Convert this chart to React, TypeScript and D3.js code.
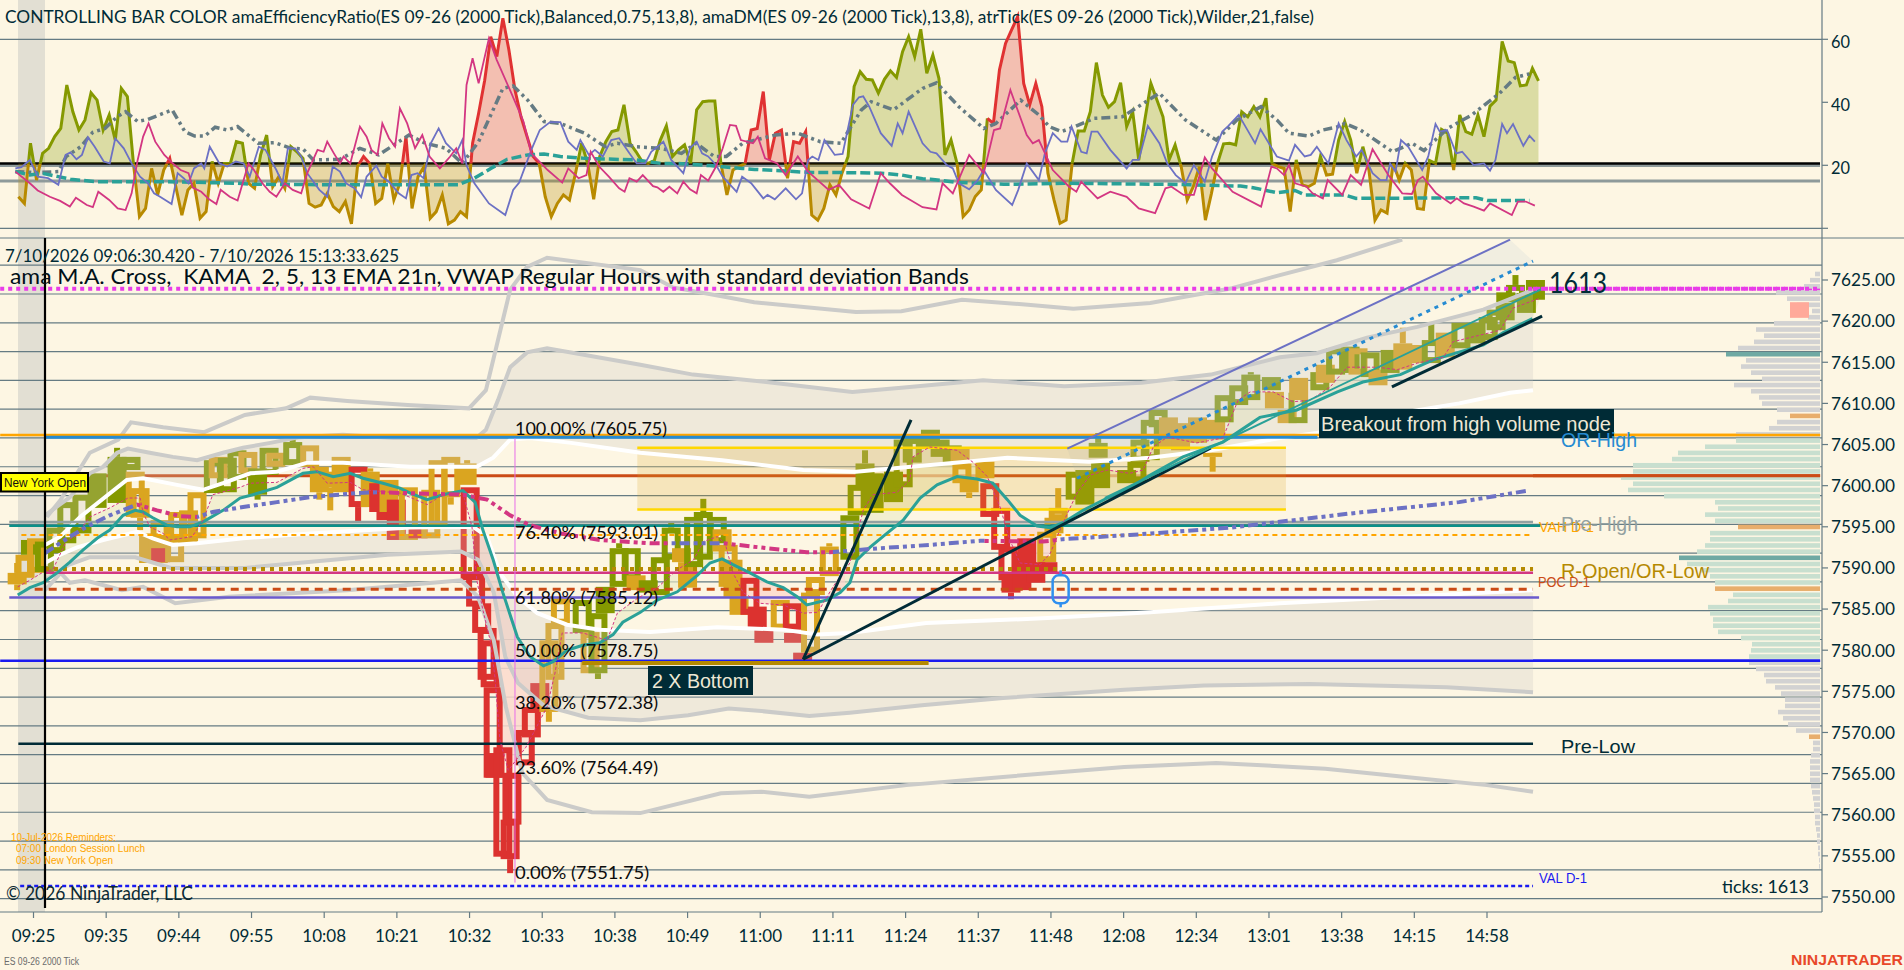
import React from 'react';
import * as d3 from 'd3';

type Pt = [number, number];
type Candle = [number, number, number, string, number?, number?];

const titleText = 'CONTROLLING BAR COLOR amaEfficiencyRatio(ES 09-26 (2000 Tick),Balanced,0.75,13,8), amaDM(ES 09-26 (2000 Tick),13,8), atrTick(ES 09-26 (2000 Tick),Wilder,21,false)';
const rangeText = '7/10/2026 09:06:30.420 - 7/10/2026 15:13:33.625';
const studyText = 'ama M.A. Cross,  KAMA  2, 5, 13 EMA 21n, VWAP Regular Hours with standard deviation Bands';

const timeLabels = ['09:25', '09:35', '09:44', '09:55', '10:08', '10:21', '10:32', '10:33', '10:38', '10:49', '11:00', '11:11', '11:24', '11:37', '11:48', '12:08', '12:34', '13:01', '13:38', '14:15', '14:58'];
const priceTicks = [7625, 7620, 7615, 7610, 7605, 7600, 7595, 7590, 7585, 7580, 7575, 7570, 7565, 7560, 7555, 7550];
const gridPrices = [7626.8, 7623.3, 7619.8, 7616.3, 7612.8, 7609.3, 7605.8, 7602.3, 7598.8, 7595.3, 7591.8, 7588.3, 7584.8, 7581.3, 7577.8, 7574.3, 7570.8, 7567.3, 7563.8, 7560.3, 7556.8, 7553.3, 7549.8];
const oscTicks = [60, 40, 20];

// efficiency ratio, one value per bar
const erValues = [
  10, 7.9, 27, 15.3, 23.8, 25.4, 29.1, 31.7, 45.5, 37,
  31.2, 34.4, 43, 40.7, 31.2, 36, 28, 44.4, 41.8, 20.6,
  3.7, 6.3, 19, 10.6, 18.5, 22.2, 13.2, 4.2, 12.2, 14.3,
  3.2, 5.3, 21.2, 14.3, 20.6, 20.6, 27.5, 27, 14.3, 12.7,
  23.3, 29.6, 13.2, 16.4, 12.7, 25.9, 24.3, 22.2, 7.9, 6.7,
  7.4, 11.1, 6.9, 5.3, 8.5, 1.4, 19.6, 22.8, 20.6, 7.9,
  9.5, 20.6, 9, 14.3, 29.1, 6.3, 16.4, 19.6, 3.2, 5.3,
  10.6, 1.4, 2.6, 5.3, 3.7, 27, 36.5, 47, 60.8, 54.5,
  66.7, 56.6, 43.9, 35.4, 29.1, 22.8, 20.6, 10, 3.7, 7.9,
  10.6, 9, 17.5, 27, 20.6, 9.2, 22.8, 27.5, 30.7, 31.2,
  39.2, 27, 24.3, 21.2, 20.6, 21.5, 28, 32.5, 22.8, 24.9,
  26.5, 20.6, 37.6, 40.2, 40.4, 40.4, 20.6, 10.6, 18.5, 19.6,
  20.6, 31.2, 31.7, 43.4, 21.7, 30.2, 31.2, 15.9, 27.5, 27,
  30.7, 4.2, 2.6, 6.3, 13.8, 10.6, 17.5, 22.8, 45, 49.7,
  47.3, 47.1, 42.9, 47.3, 50, 47.9, 56.1, 60.8, 54.5, 63.2,
  49.2, 55, 47.6, 23.3, 28, 20.6, 3.7, 5.8, 10.1, 12.2,
  34.9, 33.3, 50.3, 58.7, 63, 67.2, 46, 39.2, 46, 38.6,
  17.5, 9, 1.6, 2.6, 20.6, 30.9, 30.9, 37, 52.6, 42.3,
  38.4, 40.2, 46.2, 32.3, 37, 21.7, 34.4, 46, 40.7, 35.4,
  21.7, 26.5, 19.6, 9, 13.2, 19.6, 2.6, 11.1, 20.6, 26.8,
  27, 26.5, 37, 35.4, 38.6, 35.4, 41.3, 20.6, 19.6, 19,
  5.3, 21.7, 13.8, 13.2, 14.3, 22.8, 16.9, 17.2, 28, 33.9,
  28, 17.5, 25.9, 18.5, 2.6, 5.8, 4.8, 20.6, 15.3, 20.6,
  18.5, 6.3, 6, 21.5, 20.6, 31.4, 30.2, 18.5, 36, 30.7,
  29.9, 36, 29.1, 38.8, 40.7, 59.3, 53.1, 52.6, 45.2, 45.5, 50.8, 46.8,
];
const erRedRanges: Pt[] = [[24, 26], [56, 58], [63, 65], [74, 86], [120, 131], [159.5, 170]];
const erBase = 20.6;
const oscLevelLow = 15;
const oscLevelMid = 19.9;

const adxPink: Pt[] = [[0, 18], [2.4, 14.3], [3.7, 12], [5.7, 10], [7.4, 8.7], [9, 6.9], [10, 9.7], [11.8, 7.4], [12.8, 6.7], [13.7, 11.6], [15.5, 9], [16.9, 6.3], [18.2, 5.8], [19.2, 11.1], [20.2, 21.7], [21.1, 29.1], [22, 33.3], [23.1, 27.5], [24.6, 23.3], [26, 20.6], [27.3, 18.5], [28.6, 17.5], [29.3, 12.9], [30.7, 11.6], [32, 9.2], [33.2, 7.7], [33.9, 12.2], [35.4, 10], [36.7, 8.8], [38.5, 20.6], [39.4, 18.5], [40.8, 14.3], [42, 11.6], [43.1, 10], [44.5, 14.3], [45.8, 12.2], [47.2, 11.1], [48.2, 17.5], [49.9, 24.9], [50.9, 24.3], [51.5, 27.5], [52.6, 23.8], [53.6, 20.6], [54.2, 22.8], [55.3, 20.6], [56.9, 32.3], [58, 29.1], [58.8, 24.9], [59.8, 23.3], [60.6, 33.3], [61.7, 28.6], [62.7, 25.9], [63.5, 38.1], [64.7, 33.3], [66, 25.4], [67.2, 29.6], [68.4, 22.8], [70.1, 19], [71.8, 22.8], [72.8, 25.4], [73.8, 20.6], [74.5, 45.5], [75.5, 54], [76.5, 46], [78.2, 60.3], [79.5, 53.4], [81.9, 42.9], [83.9, 33.9], [85.2, 23.8], [87.9, 18.5], [90.3, 14.5], [91.3, 19], [93, 15.9], [94.3, 16.9], [95, 24.3], [96.4, 19.6], [98, 16.4], [99.7, 12.7], [100.6, 11.6], [101.4, 15.9],
  [102.6, 14.8], [103.6, 16.9], [105.3, 13.4], [106, 13], [107, 11.6], [108, 13.2], [109.3, 11.1], [110.3, 14.8], [111.4, 12.4], [112.5, 11.1], [113.2, 16.9], [114.4, 15.1], [115.7, 19.6], [116.8, 25.4], [118, 32.8], [119, 32.5], [119.8, 28], [121.8, 27], [122.6, 29.1], [123.8, 22.2], [125.8, 20.6], [127.2, 16.9], [129.2, 22.8], [130.9, 18], [134.3, 12.2], [136, 13.8], [138, 9.2], [141, 6.3], [142.9, 17.5], [144.4, 14.3], [146.4, 10.6], [149.8, 6.7], [152.1, 6], [153.1, 14.3], [154.8, 11.1], [157.5, 23.3], [159.9, 17.5], [161.6, 31.2], [162.6, 31.7], [164.3, 43.9], [167, 29.6], [168, 27], [169, 28], [171.3, 18.5], [174, 13.2], [175.2, 11.6], [176, 14.8], [178.7, 9.5], [180.8, 11.6], [183.5, 10], [185.5, 6.3], [188.2, 4.8], [189.9, 12.7], [190.9, 13.2], [192.9, 10.6], [194.6, 10.6], [196.4, 22.5], [197.6, 19], [201, 11.6], [205.7, 6.9], [207.4, 19.6],
  [208.3, 19], [209.5, 16.9], [210.3, 20.1], [211.3, 14.3], [213.2, 13.2], [214.2, 11.1], [215.9, 9.5], [216.7, 15.3], [219.1, 10.6], [220.5, 16.9], [222.2, 13.8], [224.1, 25.1], [226.7, 16.9], [229, 11.1], [230.6, 10.9], [231.6, 15.3], [232.4, 16.4], [234.6, 11.1], [237, 7.9], [238, 9.5], [239.2, 7.9], [240.8, 6.9], [242.5, 5.6], [243.5, 7.9], [247.1, 4.2], [248.1, 8.5], [249.4, 8.5], [250.9, 7.2]];

const adxBlue: Pt[] = [[0, 19], [1, 19.4], [2.4, 21.7], [3.7, 16.4], [5.4, 15.9], [7.1, 13.8], [8.3, 23.3], [9.1, 24.1], [10.1, 21.9], [11, 23.3], [12, 28.9], [13.1, 25.9], [14.6, 21.2], [15.6, 20.6], [16.5, 28.5], [17.9, 25.4], [19.2, 20.6], [20.6, 16.4], [21.9, 14.3], [22.9, 11.1], [23.9, 10], [25.8, 7.7], [26.8, 17.5], [27.8, 15.9], [28.6, 14.3], [29.5, 19], [30.7, 20.6], [31.2, 19], [32.1, 25.9], [33.7, 20.6], [35, 19.6], [36.4, 21.2], [37.7, 20.6], [38.7, 16.4], [40.2, 25.9], [41.3, 24.9], [43.1, 18.5], [44.1, 14.3], [45, 25.4], [46.2, 25.4], [47.2, 22.8], [48.2, 17.5], [50.2, 12.2], [51.5, 10], [52.4, 19.6], [53.6, 18], [54.6, 14.3], [56, 12.7], [57.1, 9.9], [58, 16.4], [59.6, 19.9], [60.5, 16.4], [61.7, 14.8], [63.3, 11.1], [64.5, 9.5], [65.4, 16.9], [66.4, 17.5], [67.4, 15.9], [68.6, 27], [69.9, 31.7], [71.1, 27], [72.8, 23.8], [73.8, 28], [74.5, 20], [75.8, 14.3], [78.2, 7.9], [80.9, 4.2], [82.2, 12.2], [83.2, 14.5], [85.2, 24.9], [86.6, 31.2], [88.3, 33.7], [90, 33.7], [91.3, 27.5], [92.7, 24.9], [93.3, 28], [94.7, 23.3], [95.7, 24.9], [97, 22.8], [98.4, 28], [99.7, 28.6], [101.4, 23.8],
  [102.6, 20.6], [104, 20.6], [105, 24.3], [107, 27.5], [108.3, 21.7], [110.3, 17.5], [111.4, 25.4], [112.5, 27.5], [113.4, 23.8], [114.4, 22.8], [115.7, 20.1], [116.8, 16.4], [119.1, 11.6], [120, 16.4], [121.5, 14.3], [123.5, 9.5], [124.2, 10.6], [125.4, 9.2], [127.2, 12.7], [128.9, 9.2], [129.9, 11.1], [130.9, 21.7], [131.6, 22.8], [132.6, 21.7], [133.6, 28], [135.3, 23.3], [136.6, 23.6], [138.3, 39.2], [139.3, 41.6], [140, 41.9], [141, 38.6], [142.9, 30.2], [144.7, 26.2], [145.7, 33.3], [146.5, 30.2], [147.5, 37], [149.8, 27], [151.1, 24.3], [152.1, 23.8], [153.8, 20.1], [154.8, 19], [155.8, 14.3], [157.5, 12.4], [158.9, 15.3], [159.9, 18.5], [161.9, 12.2], [164.6, 7.4], [165.6, 12.2], [167, 20.6], [169, 15.3], [170, 23.8], [171.3, 30.2], [172.7, 27.5], [173.7, 27.5], [174.4, 32.3], [176, 24.3], [176.9, 23.8], [177.7, 30.7], [178.7, 30.7], [180.8, 24.9], [183.5, 19], [184.5, 21.7], [185.5, 21.7], [187, 32.5], [188.9, 27], [190.2, 20.6], [191.6, 16.9], [193.2, 14.3], [194.6, 20.1], [196.4, 14.8], [197.6, 22.8], [199.3, 30.7], [200.3, 32.5], [202, 36], [203.6, 30.7], [204.7, 27], [205.6, 31.4],
  [208.3, 22.8], [210.3, 21.5], [211.3, 26.5], [212.9, 22.8], [213.9, 23.3], [214.9, 25.9], [216.8, 20.6], [218.5, 33.3], [219.8, 28], [221.4, 22.8], [222.3, 24.9], [224.1, 17.5], [225.4, 15.3], [226.4, 15.3], [227, 20.6], [227.9, 18], [228.8, 28], [230, 25.9], [232.3, 18.5], [233.3, 22.8], [234.5, 33.1], [235.2, 30.7], [236.4, 31.2], [237.9, 23.8], [238.9, 24.3], [240.8, 20.1], [242.5, 20.6], [243.5, 18.3], [244.4, 21.7], [245.5, 33.1], [246.3, 30.2], [247.3, 33.1], [249, 26.2], [250, 29.4], [250.9, 27.5]];

const atrGray: Pt[] = [[0, 18], [3.7, 17.7], [7.1, 18], [8.4, 22.8], [10.8, 25.9], [12.8, 30.5], [14.8, 31.7], [16.8, 35.4], [18.2, 37], [20.2, 33.9], [21.9, 34.6], [25.9, 37.6], [28, 30.7], [29.6, 29.3], [31.3, 29.3], [33, 32.1], [35, 31.2], [36.7, 32.3], [40.1, 27], [42.8, 27.2], [45.5, 25.4], [47.5, 25.2], [49.2, 21.7], [53.6, 21.9], [56.9, 25.4], [60, 23.3], [65, 29.6], [67.7, 27], [71.1, 25.4], [73.8, 20.6], [76.5, 27.5], [80.5, 44.4], [82.2, 45.2], [84.6, 40.7], [87.3, 33.9], [90, 33.3], [94, 30.2], [97.4, 25.9], [99.4, 27], [102.6, 25.9],
  [106.6, 25.4], [110, 23.8], [112.4, 27], [115.4, 22.8], [117.4, 22.8], [120.1, 27], [125.5, 29.6], [129.2, 30.2], [132.9, 27.5], [136.3, 27], [139.7, 37.6], [141.3, 40.2], [145, 37.6], [149.8, 44.4], [152.1, 46.2], [155.8, 38.6], [159.9, 31.7], [161.9, 33.3], [166, 40.7], [169, 36], [170.7, 32.3], [172.7, 30.7], [175, 32.3], [178.1, 34.9], [182.8, 35.4], [188.9, 42.9], [193.2, 34.4], [198.3, 28], [201.7, 34.4], [205.7, 38.6], [208.3, 34.4],
  [210.3, 30.2], [213.6, 29.3], [215.9, 31.2], [218.5, 32.3], [219.5, 33.3], [222.1, 31.2], [227.4, 24.3], [230.6, 27], [232.6, 24.7], [236.5, 31.7], [240.5, 36], [245.1, 42.9], [247.7, 47.9], [250, 49]];

const atrAverage: Pt[] = [[0, 18], [2.4, 16.9], [4.4, 17.5], [7.1, 16.4], [9.1, 15.6], [13.1, 14.8], [15.8, 14.8], [23.9, 14.8], [32, 14.5], [36.7, 14.3], [38.7, 14], [53.6, 13.8], [59.6, 13.8], [73.1, 13.8], [75.8, 15.9], [78.5, 19], [81.2, 21.9], [84.6, 23.3], [87.3, 23.6], [90, 22.8], [94, 22.2], [102.6, 21.7],
  [106.6, 20.6], [109.3, 20.6], [114.7, 19.9], [120.1, 19], [122.1, 18.7], [131.6, 17.7], [136.3, 17.7], [143, 17.5], [146.4, 16.9], [149.8, 15.7], [151.1, 15.6], [155.2, 14.6], [163.2, 14], [165.3, 14], [173.4, 14.3], [188.2, 14], [190.2, 14], [202.3, 13.4], [204.4, 12.9], [208.3, 11.3],
  [211.3, 12], [212.9, 10.6], [219.5, 10.6], [221.4, 9.5], [241.2, 9.7], [243.1, 8.8], [250, 8.8]];

// candles as [bar, open, close, tone, high, low]
const openingCandles: Candle[] = [
  [0.3, 7589.4, 7588, 'y', 7590.6, 7587.3], [1.6, 7588.8, 7591.6, 'y'], [2.5, 7593.4, 7591.6, 'o'], [3.5, 7589.4, 7593.6, 'y'],
  [4.8, 7589.5, 7593.2, 'o'], [6.7, 7591.8, 7594.9, 'o'], [8.5, 7593, 7598, 'o'], [11, 7594.2, 7598.9, 'o'], [13.5, 7601.5, 7597.3, 'o'],
  [16.8, 7603.5, 7597.9, 'o', 7604.6], [19.1, 7601.9, 7603.5, 'o'], [19.8, 7596.2, 7601.7, 'y'], [20.6, 7596.1, 7599.7, 'y', undefined, 7594.6],
  [22, 7594.2, 7590.6, 'y'], [23.6, 7594, 7590.6, 'y'], [23.9, 7593.2, 7595.8, 'y'], [24, 7592.4, 7590.7, 'r'], [26.3, 7590.7, 7593.8, 'y'],
  [26.8, 7593.4, 7596.8, 'y'], [28.6, 7593, 7597, 'y'], [30, 7593.6, 7599.2, 'y'], [32.7, 7599.1, 7603.1, 'o'], [33.5, 7600.9, 7603.5, 'y'],
  [35, 7599.2, 7603.4, 'o'], [36.6, 7600.7, 7604.3, 'o'], [38.4, 7601.5, 7604.1, 'y'], [40, 7602.1, 7598.9, 'o', undefined, 7598.3],
  [41.9, 7601.3, 7604.6, 'o'], [43, 7602.3, 7604, 'y'], [45.8, 7602.5, 7605.3, 'o', 7605.8], [48.6, 7602.3, 7604.9, 'y'],
  [50.2, 7602.3, 7599.2, 'y', undefined, 7598.3], [52, 7601.7, 7599.8, 'y', undefined, 7597], [53.8, 7603.5, 7599.2, 'y'],
  [56.6, 7597.4, 7602.3, 'r', undefined, 7595.5], [58.6, 7601.7, 7597.4, 'y', 7602.1], [60, 7600.3, 7596.8, 'r'], [61.2, 7596.8, 7595.8, 'r'],
  [61.7, 7600.7, 7596.8, 'y'], [62.9, 7598.3, 7593.4, 'r'], [64.9, 7593.4, 7599.8, 'y'], [66.5, 7595, 7593.6, 'r'], [68.6, 7593.6, 7599.5, 'y'],
  [69.8, 7595, 7603.1, 'y'], [71.9, 7598.6, 7603.5, 'y', undefined, 7597.7], [74.6, 7602.7, 7600.1, 'y', 7603.1],
];
const selloffCandles: Candle[] = [
  [75.1, 7588.5, 7599.8, 'r'], [76, 7585.3, 7589.4, 'r'], [77, 7582.1, 7585.7, 'r'], [77.9, 7576.4, 7582.7, 'r'], [78.4, 7575.5, 7581.2, 'r'],
  [78.9, 7564.5, 7575.5, 'r'], [79.2, 7567.5, 7564.5, 'r'], [80.5, 7554.9, 7568.2, 'r'], [81.7, 7554.6, 7559.4, 'r', undefined, 7552.9],
  [82, 7558.8, 7565.1, 'r'], [84.2, 7566, 7570.3, 'r'], [85.2, 7569.4, 7573.1, 'r'], [86.6, 7576, 7572.5, 'r'],
  [88.1, 7572.5, 7581.2, 'y', undefined, 7571.3], [89.1, 7576.4, 7583.3, 'y'], [90, 7583.1, 7586.3, 'y'],
];
const reboundCandles: Candle[] = [
  [93.6, 7582.1, 7586.1, 'o'], [94.9, 7577.2, 7582.2, 'y'], [96.2, 7577.2, 7584.5, 'o', undefined, 7576.5], [97.4, 7587.7, 7584.5, 'o'],
  [99.7, 7587.7, 7592.4, 'o', 7593], [101.7, 7588.5, 7592.4, 'o'], [102.5, 7589.1, 7587.3, 'y'], [104.5, 7588.5, 7587, 'o'], [106.5, 7586.7, 7591.3, 'o'],
  [108.3, 7591, 7594.9, 'o', 7595.5], [110, 7592.4, 7590.7, 'y'], [111, 7590.7, 7587.6, 'y'], [112, 7590.1, 7596.2, 'o'], [113.6, 7591, 7596.8, 'o', 7598.4],
  [115.9, 7593, 7596.2, 'o'], [116.7, 7592, 7594.7, 'y'], [117.7, 7587.7, 7592.8, 'y'], [118.5, 7591, 7586.5, 'y'], [119.5, 7586.5, 7584.3, 'y'],
  [121.3, 7584.3, 7588.8, 'r'], [122.5, 7585.3, 7582.7, 'r'], [123.6, 7582.7, 7580.9, 'r'], [126.3, 7582.5, 7586.1, 'y'], [128.3, 7582.5, 7585.7, 'r'],
  [128.5, 7582.1, 7580.9, 'r'], [130, 7579.7, 7578.6, 'r'], [131.3, 7579.7, 7587, 'y'], [132.1, 7586.7, 7588.9, 'y'], [134.4, 7589, 7592.6, 'y', 7593],
];
const middayCandles: Candle[] = [
  [137.8, 7591, 7596.4, 'o'], [139, 7596.4, 7600.1, 'o'], [140.3, 7602.7, 7599.5, 'o', 7604.3], [141.8, 7601.5, 7596.7, 'o'], [145, 7601.7, 7598, 'o'],
  [146.6, 7599.8, 7605.6, 'o'], [148.1, 7602.8, 7605.8, 'o'], [151.1, 7606.8, 7604.7, 'o'], [152.7, 7605.6, 7603.5, 'o'], [154.7, 7604.9, 7602.5, 'o'],
  [156, 7604.6, 7602.5, 'y'], [156.3, 7600.3, 7602.7, 'y'], [157.5, 7600.9, 7599.2, 'y', undefined, 7598.5], [160.1, 7602.9, 7600.9, 'y'],
  [160.9, 7596.2, 7600.3, 'r'], [162.7, 7592.2, 7597.3, 'r'], [163.9, 7588.5, 7592.6, 'r'], [164.4, 7589.4, 7587, 'r', undefined, 7586.2],
  [166.2, 7591.9, 7587.3, 'r'], [167, 7593.6, 7589.8, 'r'], [168.5, 7590.7, 7588.2, 'r'], [170.3, 7590.7, 7594.4, 'y'], [170.5, 7590.7, 7589.5, 'r'],
  [171.5, 7594.2, 7596.1, 'y'], [172.2, 7595.8, 7597.3, 'y', 7599.7],
];
const trendCandles: Candle[] = [
  [175, 7598.3, 7601.7, 'o'], [176.6, 7601.9, 7597.7, 'o'], [178.8, 7605.2, 7603.4, 'o', 7606.4], [179.2, 7602.8, 7599.7, 'o'], [183.5, 7601.9, 7600.3, 'o'],
  [185.2, 7600.4, 7602.9, 'o'], [185.7, 7602.9, 7605.6, 'o'], [187.4, 7603.1, 7608, 'o'], [188.7, 7607.1, 7609.2, 'o'], [190.4, 7608.3, 7604.7, 'y'],
  [192.4, 7607.6, 7604.3, 'y'], [195.2, 7608.3, 7605.2, 'y'], [197.7, 7604, 7603.5, 'y', undefined, 7601.7], [198.2, 7608, 7605.6, 'y'], [199.6, 7607.7, 7611, 'o'],
  [202, 7609.8, 7612.2, 'o'], [204, 7610.4, 7613.5, 'o', 7613.8], [207.4, 7613.2, 7611.6, 'o'], [207.9, 7611.4, 7609.4, 'y'], [210, 7609.2, 7607.6, 'y'],
  [211.8, 7607.6, 7611.3, 'o'], [211.9, 7613.1, 7610.4, 'y'], [215.4, 7611.6, 7613.8, 'o'], [216.3, 7614.7, 7612.5, 'y'], [218, 7613.5, 7616.7, 'o'],
  [220.4, 7616.9, 7613.7, 'o'], [221.7, 7613.5, 7616.7, 'y'], [223.7, 7613.2, 7616.2, 'o'], [225, 7614.1, 7612.2, 'y'], [227, 7616.5, 7613.7, 'o'],
  [229.1, 7617.3, 7614.1, 'y', 7619.2], [230.9, 7617.1, 7614.9, 'y'], [233.8, 7614.9, 7617.7, 'o', 7619.9], [236.1, 7618.6, 7615.6, 'y'], [238.7, 7616.7, 7619.8, 'o'],
  [241.2, 7619.8, 7617.3, 'o'], [243.2, 7617.7, 7620.5, 'o'], [244.5, 7618.9, 7621.4, 'o'], [246, 7622.2, 7620.1, 'o'], [246.1, 7623.5, 7622.3, 'o'],
  [247.7, 7622.3, 7624.4, 'o', 7625.6], [249.5, 7623.4, 7621, 'o'], [251, 7625, 7622.6, 'o'],
];

const emaLine: Pt[] = [[0.4, 7586.7], [2.4, 7587.6], [4.6, 7588.2], [6.9, 7589.4], [9, 7590.7], [11.2, 7592.2], [13.5, 7593.6], [15.6, 7594.6], [17.8, 7596.4], [19.8, 7597], [21.1, 7596.8], [22.7, 7596.1], [25, 7595.2], [26.7, 7595], [28.8, 7595], [31, 7595.6], [34.3, 7597], [37.1, 7598.5], [39.2, 7598.9], [43.2, 7599.8], [47.5, 7601.5], [49.8, 7601.7], [52.5, 7601.1], [55.3, 7601.5], [57.4, 7600.9], [60.7, 7600.3], [63.5, 7599.7], [65.2, 7599.1], [68, 7598.3], [70.6, 7598.9], [73.9, 7599.4], [75.9, 7598], [77.2, 7594.6], [78.9, 7591], [80.5, 7587], [82.9, 7581.6], [85, 7579.2], [87.2, 7578.1], [88.8, 7578.6], [91.1, 7580], [93.7, 7580.6], [96.5, 7580.9], [98.7, 7581.9], [100.3, 7583.4], [103.2, 7584.6], [106, 7586.1], [109.3, 7587.1], [112.6, 7589.1], [114.7, 7590.6], [116.7, 7591.1], [118.5, 7590.4], [121.3, 7589.4], [124.1, 7588.3], [126.8, 7587.6], [129.1, 7586.5], [130.7, 7585.5], [134, 7586.1], [136.2, 7587], [137.8, 7588.2], [139, 7591], [141.1, 7592.5], [143.9, 7594.2], [146.6, 7595.8], [149.4, 7598.5], [152.2, 7600.1], [155.5, 7601.1], [158.8, 7600.8], [161.4, 7600.3], [163.8, 7598.3], [165.9, 7596.4], [168.7, 7595.1], [170.9, 7594.9], [173, 7595.5], [176.3, 7597], [180.3, 7598.5], [184, 7599.7], [187.4, 7601.3], [192.8, 7603.5], [199.4, 7605.3], [205.5, 7608.3], [211.6, 7609.2], [218.3, 7611.4], [222.5, 7612.6], [228.7, 7613.5], [234.1, 7615.3], [242.4, 7617.1], [245.7, 7618.6], [250.5, 7620.3]];

const kamaLine: Pt[] = [[0.4, 7587.7], [2.4, 7588.5], [4.6, 7589.5], [6.2, 7589.8], [8.5, 7593.4], [9.9, 7593.8], [12.3, 7596.2], [15.6, 7597.3], [18.6, 7598.5], [20.6, 7598.5], [21.1, 7596.7], [22.2, 7595], [24.4, 7594.2], [25.5, 7593.4], [29.2, 7593.8], [31, 7595.8], [32.6, 7598.9], [37.1, 7599.8], [38.8, 7600.3], [43.2, 7600.4], [47.5, 7602.1], [49.2, 7602.3], [51.5, 7600.3], [55.3, 7600.4], [57.4, 7599.5], [63.5, 7599.1], [68, 7597.7], [70.6, 7598.9], [73.9, 7599.1], [75.4, 7595], [76.2, 7588.5], [77.2, 7584.9], [78.4, 7581.2], [79.2, 7576.7], [80, 7569.1], [81.4, 7565.4], [84.3, 7568.2], [87.8, 7573.1], [89.1, 7577.2], [90.3, 7582.1], [93.7, 7582.1], [97.7, 7581.2], [99.4, 7584.5], [102.7, 7586.3], [106, 7587.6], [109.3, 7589.8], [112, 7591], [113.6, 7593.2], [115.9, 7593.8], [117.2, 7593], [118.5, 7589.4], [120.2, 7587], [123, 7585.7], [126.8, 7585.5], [130.1, 7584.5], [132.5, 7584.6], [135, 7587.7], [137.8, 7590.6], [140, 7597], [141.6, 7598.9], [145.6, 7599.2], [147.7, 7600.7], [148.2, 7603.5], [151, 7604.7], [155.5, 7604.3], [158.2, 7602.8], [160.5, 7601.1], [162.6, 7597.4], [164.2, 7593.4], [165.9, 7590.6], [169.2, 7590.4], [170.9, 7591.8], [173, 7595.5], [175.3, 7599.1], [177.5, 7601.3], [180.3, 7601.9], [184, 7601.5], [186.2, 7601.9], [187.9, 7604.7], [190.2, 7605.9], [195.1, 7605.2], [199.4, 7605.8], [201.9, 7610.4], [203.9, 7611.4], [207.7, 7611.4], [211, 7610.2], [213.8, 7610.4], [217.1, 7612], [219.9, 7614.4], [224.9, 7614.4], [228.2, 7614.1], [231.5, 7614.9], [235.8, 7615.6], [237.4, 7617.5], [245.2, 7618.9], [247.3, 7621.6], [251.8, 7622.8]];
const kamaPinkRanges: Pt[] = [[75, 91], [118, 137], [160, 172]];
const kamaPaleRanges: Pt[] = [[0, 75], [91, 118], [137, 160], [172, 252]];

const vwapLine: Pt[] = [[4.9, 7591.8], [9, 7593.8], [12.3, 7595.2], [15.6, 7596.4], [20.1, 7597.7], [23.4, 7597], [27.2, 7596.3], [30, 7596.2], [32.6, 7596.8], [37.6, 7597.4], [43.2, 7598], [48.7, 7598.6], [56.4, 7599.1], [59.7, 7599.2], [73.9, 7598.9], [77.9, 7598.3], [81.7, 7596.4], [85, 7595.2], [90, 7594.2], [96.5, 7593.4], [104.8, 7593], [108.1, 7593], [116.9, 7593], [124.1, 7592.4], [130.7, 7591.9], [134.5, 7591.9], [142.8, 7592.4], [151, 7592.8], [159.3, 7593.3], [169.7, 7593.2], [173, 7593.5], [184, 7594], [200.6, 7594.9], [221.4, 7596.7], [238.4, 7598], [249.8, 7599.4]];
const vwapDownRanges: Pt[] = [[20, 30], [60, 108], [117, 135], [160, 172]];
const vwapUpRanges: Pt[] = [[0, 20], [30, 60], [108, 117], [135, 160], [172, 252]];

const bandUpper3: Pt[] = [[5.2, 7596.2], [7.5, 7598.3], [12.3, 7604], [17, 7605.6], [19.1, 7607.7], [24.4, 7607.1], [31.2, 7606.5], [37.9, 7608.6], [44.7, 7609.4], [48.7, 7610.7], [54.8, 7610.3], [64.8, 7609.8], [74.9, 7609.4], [77.7, 7611.6], [79.7, 7617.7], [81.7, 7623.8], [84.5, 7626.6], [87.8, 7627.7], [103.2, 7626.2], [108.6, 7624.1], [122, 7622.3], [138.8, 7621.1], [146.3, 7621.2], [156.3, 7622.6], [167.2, 7622], [174.7, 7621.5], [187.4, 7622.2], [200.9, 7624], [208.8, 7625.6], [218.2, 7627.4], [229, 7629.9]];
const bandUpper2: Pt[] = [[4.9, 7596.4], [9, 7598.6], [12.3, 7601.5], [14.5, 7602.3], [16.8, 7604], [18.6, 7604.5], [22.2, 7604], [26, 7603.5], [30, 7603.1], [34.3, 7604], [37.6, 7604.6], [42.1, 7605.2], [47, 7605.9], [54.1, 7606.2], [62.4, 7605.8], [76.1, 7605.8], [77.7, 7606.8], [79.7, 7610.4], [81.7, 7614.4], [84.5, 7616.2], [87.8, 7616.7], [103.2, 7614.7], [111.9, 7613.5], [124, 7612.6], [138.2, 7611.4], [146.3, 7611.9], [159.8, 7612.8], [173.2, 7612.1], [186, 7612.5], [197.4, 7613.5], [208.8, 7615.6], [214.9, 7616.1], [223.2, 7618], [231.5, 7619.3], [242.4, 7621.4], [250.6, 7623.8]];
const bandUpper1: Pt[] = [[4.9, 7592.8], [7.4, 7593.8], [10.7, 7596.2], [18.4, 7600.7], [21.1, 7600.9], [26.7, 7600.1], [31, 7599.5], [34.3, 7600.3], [38.8, 7601.5], [43.2, 7601.7], [48.2, 7602.8], [54.1, 7602.8], [65.2, 7602.3], [76.2, 7602.3], [78.9, 7603.4], [81.7, 7605.6], [85, 7605.8], [91.8, 7605.2], [103.2, 7604], [116.7, 7603.1], [130.1, 7601.9], [138.8, 7601.7], [157, 7602.9], [163.8, 7603.4], [177.3, 7602.9], [187.4, 7603.4], [197.4, 7604.3], [208.8, 7605.8], [214.9, 7606.4], [230, 7609], [238.4, 7610], [246.8, 7611.3], [250.6, 7611.6]];
const bandLower1: Pt[] = [[4.9, 7590.6], [7.4, 7591.6], [10.2, 7592.5], [14.5, 7593.4], [20.1, 7594.4], [22.7, 7593.6], [26, 7592.8], [30, 7593], [37.6, 7593.6], [48.7, 7594.2], [65.2, 7594.9], [75.6, 7595], [77.9, 7593.8], [80, 7589.4], [82.9, 7586.5], [86.2, 7584.5], [91.1, 7583.1], [96.5, 7582.5], [104.8, 7582.2], [115.9, 7582.8], [126.8, 7582.5], [132.4, 7581.9], [137.8, 7582.1], [150.4, 7583.3], [170.5, 7583.9], [187.4, 7584.6], [208.8, 7585.7], [250.6, 7587.3]];
const bandLower2: Pt[] = [[4.9, 7588.5], [8.9, 7590.4], [12.3, 7591.3], [19.8, 7591.3], [25.7, 7590], [37.9, 7590], [61.5, 7591.6], [73.6, 7592], [76.4, 7591], [79, 7587], [80.9, 7579.2], [83, 7576], [87.2, 7573.3], [94.6, 7571.8], [103.2, 7571.5], [111.1, 7572.1], [117.8, 7572.9], [123.2, 7572.6], [131.1, 7572], [137.8, 7572.4], [149.7, 7573.3], [163.1, 7574.2], [183.1, 7575.2], [196.3, 7575.7], [213.6, 7575.9], [236.3, 7575.5], [250.6, 7574.9]];
const bandLower3: Pt[] = [[4.9, 7587.3], [7.5, 7589.4], [9, 7588.2], [11.5, 7588.5], [17.6, 7587.3], [21.1, 7587.7], [26.4, 7585.7], [35.3, 7586.5], [54.8, 7587.3], [73.6, 7588.5], [76.4, 7586.5], [79, 7581.2], [81, 7573.1], [83.7, 7565.1], [87.8, 7561.8], [95.2, 7560.3], [103.2, 7560.2], [116.5, 7562.6], [123.2, 7562.8], [131.1, 7562.2], [147.1, 7563.6], [163.1, 7564.6], [183.1, 7565.8], [198.3, 7566.3], [216.3, 7565.6], [229.6, 7564.6], [243, 7563.6], [250.6, 7562.8]];

const fibLevels: [string, number][] = [['100.00% (7605.75)', 7605.75], ['76.40% (7593.01)', 7593.01], ['61.80% (7585.12)', 7585.12], ['50.00% (7578.75)', 7578.75], ['38.20% (7572.38)', 7572.38], ['23.60% (7564.49)', 7564.49], ['0.00% (7551.75)', 7551.75]];
const fibBar = 82.5;

const upperRayA: Pt[] = [[130.1, 7578.9], [147.9, 7608]];
const upperRayB: Pt[] = [[130.1, 7578.9], [197.4, 7604.6]];
const lateSupport: Pt[] = [[227.3, 7612], [252.1, 7620.6]];
const channelTop: Pt[] = [[173.7, 7604.5], [246.8, 7629.9]];
const channelMid: Pt[] = [[175.3, 7600.9], [250.6, 7627.3]];
const channelEma: Pt[] = [[179.9, 7598.5], [252.3, 7624]];
const zoneBars: Pt = [102.7, 209.8];
const zonePrices: Pt = [7604.6, 7597.1];
const doubleBottom: Pt[] = [[93.6, 7578.45], [150.8, 7578.45]];
const markerBar = 172.6;
const markerPrices: Pt = [7589.1, 7585.7];

const priceLevels = {
  prevHighTop: 7606.16, orHigh: 7605.88, poc: 7601.2, preHigh: 7595.58, pocLine: 7595.13, vah: 7594,
  rOpen: 7589.87, orLow: 7589.42, pocPrev: 7587.4, midLine: 7586.4, half: 7578.73, preLow: 7568.64, val: 7551.34, last: 7623.94,
};

// volume profile, one row per 0.75 points from the top
const volumeTop = 7625.73;
const volumeStep = 0.75;
const volumeRows = [5, 10, 16, 44, 33, 23, 8, 12, 46, 64, 56, 66, 82, 94, 74, 79, 69, 58, 86, 69, 61, 58, 43, 30, 43, 51, 84, 84, 115, 142, 148, 187, 187, 199, 187, 192, 156, 105, 102, 115, 105, 82, 110, 110, 115, 123, 141, 133, 120, 110, 105, 105, 87, 92, 112, 110, 107, 107, 102, 79, 68, 69, 71, 71, 64, 56, 54, 45, 39, 35, 35, 42, 37, 32, 24, 11, 7, 7, 9, 10, 10, 10, 10, 9, 8, 7, 6, 6, 5, 5, 4, 3, 3, 2, 2, 1, 1];
const valueAreaRows: Pt = [27, 62];
const peakRows = [13, 46];
const pocRows = [23, 41, 51, 75];

const barX = d3.scaleLinear().domain([3, 243]).range([33.5, 1487]);
const priceY = d3.scaleLinear().domain([7550, 7625]).range([897, 280]);
const oscY = d3.scaleLinear().domain([0, 60]).range([228.3, 39.3]);
const volumeW = d3.scaleLinear().domain([0, 200]).range([0, 200]);

const priceLine = d3.line<Pt>().x((d) => barX(d[0])).y((d) => priceY(d[1]));
const oscLine = d3.line<Pt>().x((d) => barX(d[0])).y((d) => oscY(d[1]));
const oscArea = d3.area<Pt>().x((d) => barX(d[0])).y0(oscY(erBase)).y1((d) => oscY(d[1]));
const ribbon = (a: Pt[], b: Pt[]) => priceLine(a) + 'L' + (priceLine([...b].reverse()) as string).slice(1) + 'Z';

const BG = '#fdf6e3';
const GRID = '#657b83';
const INK = '#002b36';
const FONT = 'Lato, "Open Sans", sans-serif';
const ARIAL = '"Liberation Sans", Arial, sans-serif';
const toneColor: Record<string, string> = { o: '#859900', y: '#daa520', r: '#dc322f' };

const erPoints: Pt[] = erValues.map((v, i) => [i + 0.5, v]);
const erIsRed = (i: number) => erRedRanges.some(([a, b]) => i >= a && i < b);
const erRuns: { red: boolean; pts: Pt[] }[] = [];
erPoints.slice(0, -1).forEach((p, i) => {
  const red = erIsRed(i);
  const last = erRuns[erRuns.length - 1];
  if (last && last.red === red) last.pts.push(erPoints[i + 1]);
  else erRuns.push({ red, pts: [p, erPoints[i + 1]] });
});

const allCandles = [...openingCandles, ...selloffCandles, ...reboundCandles, ...middayCandles, ...trendCandles];

function Label({ x, y, w, size, fill = INK, family = FONT, weight, anchor, children }: any) {
  return (
    <text x={x} y={y} dy="0.35em" fontSize={size} fill={fill} fontFamily={family} fontWeight={weight} textAnchor={anchor}
      textLength={w} lengthAdjust={w ? 'spacingAndGlyphs' : undefined} style={{ whiteSpace: 'pre' }}>{children}</text>
  );
}

function HLevel({ price, from, to, color, width, dash }: any) {
  return <line x1={barX(from)} x2={barX(to)} y1={priceY(price)} y2={priceY(price)} stroke={color} strokeWidth={width} strokeDasharray={dash} />;
}

function BarClip({ id, ranges }: { id: string; ranges: Pt[] }) {
  return (
    <clipPath id={id}>
      {ranges.map(([a, b]) => <rect key={a} x={barX(a)} y={0} width={barX(b) - barX(a)} height={970} />)}
    </clipPath>
  );
}

function CandleMark({ c }: { c: Candle }) {
  const [bar, open, close, tone, high, low] = c;
  const x = barX(bar);
  const color = toneColor[tone];
  const top = priceY(Math.max(open, close));
  const bottom = priceY(Math.min(open, close));
  return (
    <g>
      {high !== undefined && <rect x={x - 3} y={priceY(high)} width={6} height={top - priceY(high)} fill={color} />}
      {low !== undefined && <rect x={x - 3} y={bottom} width={6} height={priceY(low) - bottom} fill={color} />}
      {close > open
        ? <rect x={x - 6.5} y={top + 3} width={13} height={Math.max(bottom - top - 6, 0.5)} fill="none" stroke={color} strokeWidth={6} />
        : <rect x={x - 9.5} y={top} width={19} height={bottom - top} fill={color} />}
    </g>
  );
}

export default function App() {
  const L = priceLevels;
  const end = 250.6;
  return (
    <svg width={1904} height={970} style={{ position: 'fixed', left: 0, top: 0, display: 'block', background: BG }}>
      <defs>
        <clipPath id="oscPanel"><rect x={0} y={0} width={1822} height={238} /></clipPath>
        <clipPath id="pricePanel"><rect x={0} y={238} width={1822} height={674} /></clipPath>
        <clipPath id="aboveBase"><rect x={0} y={0} width={1822} height={oscY(erBase)} /></clipPath>
        <clipPath id="belowBase"><rect x={0} y={oscY(erBase)} width={1822} height={100} /></clipPath>
        <BarClip id="kamaPink" ranges={kamaPinkRanges} />
        <BarClip id="kamaPale" ranges={kamaPaleRanges} />
        <BarClip id="vwapDown" ranges={vwapDownRanges} />
        <BarClip id="vwapUp" ranges={vwapUpRanges} />
      </defs>

      {/* session shade */}
      <rect x={18} y={0} width={27} height={912} fill="#e2dfd3" />

      {/* grid and axes */}
      {[60, 0].map((v) => <line key={v} x1={0} x2={1822} y1={oscY(v)} y2={oscY(v)} stroke={GRID} strokeWidth={1.2} />)}
      {gridPrices.map((p) => <line key={p} x1={0} x2={1822} y1={priceY(p)} y2={priceY(p)} stroke={GRID} strokeWidth={1.2} />)}
      <line x1={0} x2={1904} y1={238} y2={238} stroke={GRID} strokeWidth={1.2} />
      <line x1={0} x2={1822} y1={912} y2={912} stroke={GRID} strokeWidth={1.2} />
      <line x1={1822} x2={1822} y1={0} y2={912} stroke={GRID} strokeWidth={1.2} />
      {[...oscTicks, 0].map((v) => <line key={v} x1={1822} x2={1828} y1={oscY(v)} y2={oscY(v)} stroke={GRID} strokeWidth={1.2} />)}
      {oscTicks.map((v) => <Label key={v} x={1831} y={oscY(v) + 2} size={18} w={19}>{v}</Label>)}
      {priceTicks.map((p) => (
        <g key={p}>
          <line x1={1822} x2={1828} y1={priceY(p)} y2={priceY(p)} stroke={GRID} strokeWidth={1.2} />
          <Label x={1831} y={priceY(p)} size={18} w={64}>{p.toFixed(2)}</Label>
        </g>
      ))}
      {timeLabels.map((t, i) => {
        const x = barX(3 + i * 12);
        return (
          <g key={t + i}>
            <line x1={x} x2={x} y1={912} y2={918} stroke={GRID} strokeWidth={1.2} />
            <Label x={x} y={936} size={17} anchor="middle">{t}</Label>
          </g>
        );
      })}

      {/* oscillator panel */}
      <g clipPath="url(#oscPanel)">
        <line x1={0} x2={1820} y1={oscY(oscLevelMid)} y2={oscY(oscLevelMid)} stroke="#8e9a9a" strokeWidth={3} />
        <line x1={0} x2={1820} y1={oscY(oscLevelLow)} y2={oscY(oscLevelLow)} stroke="#8e9a9a" strokeWidth={3} />
        <line x1={0} x2={1820} y1={oscY(erBase)} y2={oscY(erBase)} stroke="#000" strokeWidth={2.5} />
        <g clipPath="url(#belowBase)">
          <path d={oscArea(erPoints) as string} fill="#b58900" opacity={0.28} />
          <path d={oscLine(erPoints) as string} fill="none" stroke="#b88a00" strokeWidth={3} />
        </g>
        <g clipPath="url(#aboveBase)">
          {erRuns.map((r, i) => (
            <g key={i}>
              <path d={oscArea(r.pts) as string} fill={r.red ? '#dc322f' : '#859900'} opacity={0.28} />
              <path d={oscLine(r.pts) as string} fill="none" stroke={r.red ? '#e03232' : '#859900'} strokeWidth={3} />
            </g>
          ))}
        </g>
        <path d={oscLine(atrGray) as string} fill="none" stroke={GRID} strokeWidth={3.5} strokeDasharray="9 4 3 4 3 4" />
        <path d={oscLine(atrAverage) as string} fill="none" stroke="#2aa198" strokeWidth={3.5} strokeDasharray="10 4" />
        <path d={oscLine(adxBlue) as string} fill="none" stroke="#6c71c4" strokeWidth={1.8} />
        <path d={oscLine(adxPink) as string} fill="none" stroke="#d33682" strokeWidth={1.8} />
      </g>

      {/* price panel */}
      <g clipPath="url(#pricePanel)">
        <HLevel price={L.poc} from={-2.5} to={298} color="#cb4b16" width={3} />
        <path d={ribbon(kamaLine, emaLine)} fill="#ecebc6" opacity={0.65} clipPath="url(#kamaPale)" />
        <path d={ribbon(kamaLine, emaLine)} fill="#fbd9cc" opacity={0.85} clipPath="url(#kamaPink)" />

        {allCandles.map((c, i) => <CandleMark key={i} c={c} />)}

        {/* vwap bands lie over the candles */}
        <path d={ribbon(bandUpper2, bandUpper1)} fill="#c8c4c0" opacity={0.25} />
        <path d={ribbon(bandLower1, bandLower2)} fill="#c8c4c0" opacity={0.25} />
        <path d={ribbon(channelTop, channelMid)} fill="#b4c8d4" opacity={0.16} />
        <rect x={barX(zoneBars[0])} y={priceY(zonePrices[0])} width={barX(zoneBars[1]) - barX(zoneBars[0])} height={priceY(zonePrices[1]) - priceY(zonePrices[0])} fill="#daa520" opacity={0.2} />

        {[bandUpper3, bandUpper2, bandLower2, bandLower3].map((b, i) => <path key={i} d={priceLine(b) as string} fill="none" stroke="#cbcbc9" strokeWidth={4} />)}
        {[bandUpper1, bandLower1].map((b, i) => <path key={i} d={priceLine(b) as string} fill="none" stroke="#ffffff" strokeWidth={4} />)}

        <HLevel price={zonePrices[0]} from={zoneBars[0]} to={zoneBars[1]} color="#ffd700" width={2.5} />
        <HLevel price={zonePrices[1]} from={zoneBars[0]} to={zoneBars[1]} color="#ffd700" width={2.5} />
        <HLevel price={L.prevHighTop} from={-2.5} to={298} color="#ffa500" width={2.5} />
        <HLevel price={L.orHigh} from={4.9} to={215} color="#268bd2" width={3} />
        <HLevel price={L.preHigh} from={-1} to={250.6} color="#93a1a1" width={2.5} />
        <HLevel price={L.pocLine} from={-1} to={251.8} color="#0a9088" width={2.5} />
        <HLevel price={L.vah} from={1} to={end} color="#ffa500" width={2} dash="5 4" />
        <HLevel price={L.rOpen} from={4.9} to={end} color="#b58900" width={4} dash="4 5" />
        <HLevel price={L.orLow} from={4.9} to={end} color="#d33682" width={2.5} />
        <HLevel price={L.pocPrev} from={3.2} to={end} color="#cb4b16" width={3} dash="8 6" />
        <HLevel price={L.midLine} from={-1} to={251.6} color="#6a5acd" width={2.5} />
        <HLevel price={L.half} from={-2.5} to={298} color="#1a1af0" width={2.5} />
        <line x1={barX(doubleBottom[0][0])} x2={barX(doubleBottom[1][0])} y1={priceY(doubleBottom[0][1])} y2={priceY(doubleBottom[1][1])} stroke="#b58900" strokeWidth={4} />
        <HLevel price={L.preLow} from={0.5} to={end} color={INK} width={2.5} />
        <HLevel price={L.val} from={0.8} to={end} color="#1a1af0" width={2.5} dash="4 3" />
        <HLevel price={L.last} from={-2.5} to={298} color="#e83ce8" width={4} dash="4 4" />

        <line x1={barX(fibBar)} x2={barX(fibBar)} y1={priceY(7605.75)} y2={priceY(7551.75)} stroke="#e86ee8" strokeWidth={1} />

        <path d={priceLine(emaLine) as string} fill="none" stroke="#2aa198" strokeWidth={3} />
        <path d={priceLine(kamaLine) as string} fill="none" stroke="#d33682" strokeWidth={1} strokeDasharray="3 2" />
        <path d={priceLine(vwapLine) as string} fill="none" stroke="#d33682" strokeWidth={4} strokeDasharray="10 4 4 4 4 4" clipPath="url(#vwapDown)" />
        <path d={priceLine(vwapLine) as string} fill="none" stroke="#6c71c4" strokeWidth={4} strokeDasharray="10 4 4 4 4 4" clipPath="url(#vwapUp)" />

        {/* hand drawn trendlines */}
        <path d={priceLine(upperRayA) as string} stroke={INK} strokeWidth={3} fill="none" />
        <path d={priceLine(upperRayB) as string} stroke={INK} strokeWidth={3} fill="none" />
        <path d={priceLine(lateSupport) as string} stroke={INK} strokeWidth={3} fill="none" />
        <path d={priceLine(channelTop) as string} stroke="#6c71c4" strokeWidth={2} fill="none" />
        <path d={priceLine(channelMid) as string} stroke="#268bd2" strokeWidth={3} strokeDasharray="4 5" fill="none" />
        <path d={priceLine(channelEma) as string} stroke="#2aa198" strokeWidth={2} fill="none" />

        {/* hollow blue marker under the midday low */}
        <rect x={barX(markerBar) - 8} y={priceY(markerPrices[0])} width={16} height={priceY(markerPrices[1]) - priceY(markerPrices[0])} rx={6} fill="none" stroke="#2f8fef" strokeWidth={2.5} />
        <line x1={barX(markerBar)} x2={barX(markerBar)} y1={priceY(markerPrices[0]) - 5} y2={priceY(markerPrices[0])} stroke="#2f8fef" strokeWidth={2.5} />
        <line x1={barX(markerBar)} x2={barX(markerBar)} y1={priceY(markerPrices[1])} y2={priceY(markerPrices[1]) + 4} stroke="#2f8fef" strokeWidth={2.5} />
      </g>

      {/* volume profile */}
      {volumeRows.map((v, i) => {
        const inValue = i >= valueAreaRows[0] && i <= valueAreaRows[1];
        const fill = pocRows.includes(i) ? '#e8ae6c' : peakRows.includes(i) ? '#6fa9a3' : inValue ? '#c8dfcf' : '#d2d2d2';
        return <rect key={i} x={1820 - volumeW(v)} y={priceY(volumeTop - i * volumeStep) - 2.3} width={volumeW(v)} height={4.6} fill={fill} />;
      })}
      <rect x={1820 - volumeW(30)} y={priceY(7622.3)} width={volumeW(19)} height={priceY(7620.4) - priceY(7622.3)} fill="#ffa99a" />
      <HLevel price={L.prevHighTop} from={250.6} to={298} color="#ffa500" width={2.5} />
      <HLevel price={L.poc} from={250.6} to={298} color="#cb4b16" width={3} />
      <HLevel price={L.half} from={250.6} to={298} color="#1a1af0" width={2.5} />
      <HLevel price={L.last} from={250.6} to={298} color="#e83ce8" width={4} dash="4 4" />

      {/* session line goes over everything but text */}
      <line x1={45} x2={45} y1={238} y2={908} stroke="#000" strokeWidth={2.2} />

      {/* text */}
      <Label x={5} y={17} size={18} w={1309}>{titleText}</Label>
      <Label x={5} y={256} size={17} w={394}>{rangeText}</Label>
      <Label x={10} y={276} size={22} w={959} fill="#001018">{studyText}</Label>
      {fibLevels.map(([t, p]) => (
        <Label key={t} x={barX(fibBar)} y={priceY(p) - 10} size={18} w={t.length * 8.95} fill="#0b0b0b">{t}</Label>
      ))}
      <rect x={1} y={473} width={87} height={18.5} fill="#ffff00" stroke="#000" strokeWidth={2} />
      <Label x={4} y={482.5} size={13} w={82} family={ARIAL} fill="#111">New York Open</Label>

      <rect x={648} y={666} width={105} height={29} fill={INK} />
      <Label x={700.5} y={681} size={20} anchor="middle" family={ARIAL} fill="#eee8d5" w={97}>2 X Bottom</Label>
      <rect x={1319} y={409} width={295} height={29} fill={INK} />
      <Label x={1466} y={424} size={20} anchor="middle" family={ARIAL} fill="#eee8d5" w={290}>Breakout from high volume node</Label>

      <Label x={1561} y={440} size={21} w={76} family={ARIAL} fill="#268bd2">OR-High</Label>
      <Label x={1539} y={527} size={15} w={55} family={ARIAL} fill="#ffa500">VAH D-1</Label>
      <Label x={1561} y={524} size={21} w={77} family={ARIAL} fill="#93a1a1">Pre-High</Label>
      <Label x={1561} y={571} size={21} w={148} family={ARIAL} fill="#b58900">R-Open/OR-Low</Label>
      <Label x={1538} y={582} size={14} w={52} family={ARIAL} fill="#cb4b16">POC D-1</Label>
      <Label x={1561} y={746} size={19} w={74} family={ARIAL} fill={INK}>Pre-Low</Label>
      <Label x={1539} y={878} size={14} w={48} family={ARIAL} fill="#1a1af0">VAL D-1</Label>
      <Label x={1722} y={887} size={18} w={87}>ticks: 1613</Label>
      <Label x={1549} y={283} size={28} w={58}>1613</Label>
      <Label x={6} y={893} size={19} w={187} fill="#0b2a33">© 2026 NinjaTrader, LLC</Label>
      <Label x={11} y={837} size={10} w={105} family={ARIAL} fill="#ffa500">10-Jul-2026 Reminders:</Label>
      <Label x={16} y={848} size={10} w={129} family={ARIAL} fill="#ffa500">07:00 London Session Lunch</Label>
      <Label x={16} y={860} size={10} w={97} family={ARIAL} fill="#ffa500">09:30 New York Open</Label>
      <Label x={4} y={961} size={10} w={75} family={ARIAL} fill="#6b6b6b">ES 09-26 2000 Tick</Label>
      <Label x={1791} y={960} size={14} w={112} family={ARIAL} weight="bold" fill="#e8482a">NINJATRADER</Label>
    </svg>
  );
}
